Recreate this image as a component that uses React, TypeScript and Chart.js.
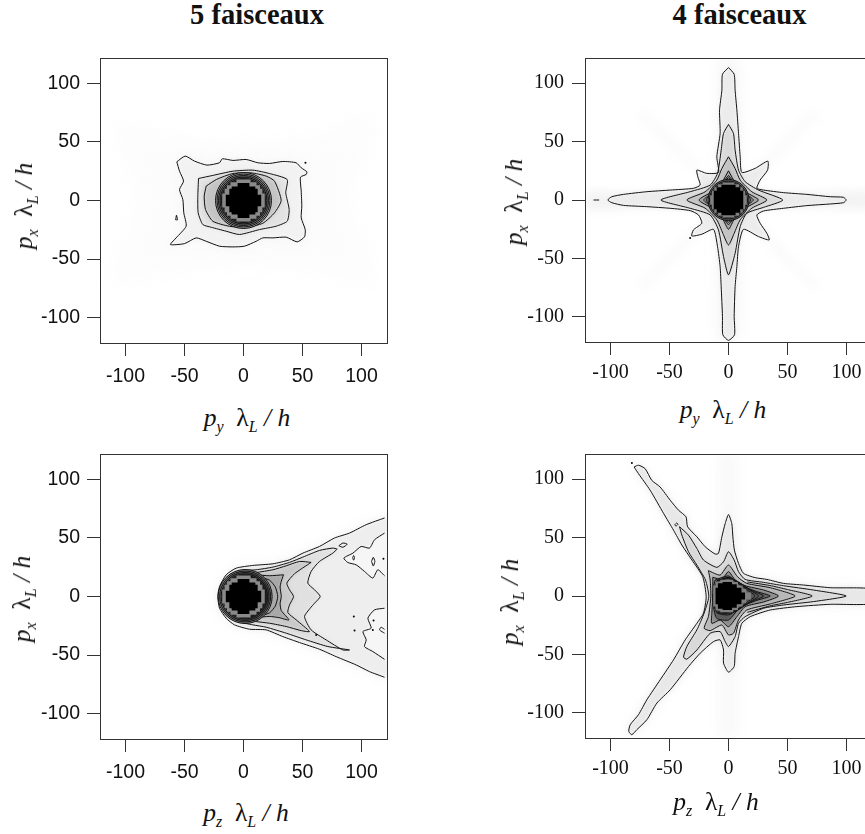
import React, { useEffect, useRef } from "react";
import { Chart, registerables } from "chart.js";

type P = [number, number];

const tickValues = [-100, -50, 0, 50, 100];
const axisLimit = 121.6;

// ---- 5 faisceaux, p_y / p_x ----
const a1Outer: P[] = [[-56.5,33],[-49.4,37.9],[-41.5,33.6],[-31,30.2],[-20.3,32.2],[-18,35.6],[-9,34.2],[2.3,35],[12.1,32.2],[22,31.6],[33.3,33.3],[44.6,32.2],[48.9,27.9],[53.7,24.5],[53.1,22.2],[48.3,19.9],[48.9,8],[49.4,-4.8],[48.9,-14.8],[52.3,-24.8],[51.7,-31],[45.5,-35.3],[36.2,-31.3],[24.9,-31.9],[16.4,-31.9],[10.7,-34.8],[0.8,-39],[-9,-39.6],[-20.3,-39],[-31.6,-34.8],[-40.1,-31.9],[-50,-36.8],[-61.9,-37.6],[-57.1,-31.9],[-48.6,-21.9],[-50.6,-10.5],[-51.4,0.9],[-54.2,9.4],[-50.8,16.5],[-54.2,25]];
const a1Second: P[] = [[-38.1,18.8],[-26,21.4],[-9,25],[7.9,25.9],[22,23],[37,17.9],[35.8,6.6],[38.7,-7.7],[37,-17.7],[27.7,-21.9],[13.6,-24.8],[-3.4,-29],[-14.7,-26.2],[-27.4,-22.8],[-34.5,-20.5],[-38.4,-10.5],[-38.7,3.7]];
const a1Third: P[] = [[-31.6,12.3],[-23,17.9],[-9,23],[6.5,23.6],[19.2,20.8],[26.3,16.5],[31.9,0],[26.3,-10.5],[16.4,-19.4],[2.3,-22.8],[-11.9,-22],[-26,-17.7],[-32.2,-7.7],[-33.3,3.7]];
const a1Drop: P[] = [[-57.5,-16.5],[-56.8,-12.5],[-56,-16.5]];
const a1Dots: P[] = [[52.5,32.2]];
const a1Haze: P[] = [[-112,70],[-50,52],[50,52],[112,70],[90,0],[112,-70],[50,-58],[-50,-58],[-112,-70],[-90,0]];
const a1Rings = [28, 26.5, 25, 23.5, 22, 20.5];

// ---- 4 faisceaux, p_y / p_x ----
const b1Outer: P[] = [[0,113.4],[4.8,107.7],[5.6,94],[7.1,76.9],[8.5,57],[9.9,37],[11.3,23.6],[22.6,27.1],[33.3,33.3],[33.1,25.6],[26.8,17.1],[24,10],[29.7,8.5],[46.6,6.3],[66.4,4.8],[86.2,2.8],[97.5,2.3],[99.7,0],[97.5,-2.3],[86.2,-3.4],[66.4,-4.8],[46.6,-7.1],[29.7,-9.4],[24,-12.8],[26.8,-19.9],[32.5,-28.5],[34.5,-34.2],[25.4,-31.3],[12.7,-25.1],[8.5,-39.9],[7.1,-57],[5.6,-74.1],[4.8,-99.7],[5.1,-115.4],[0,-120.2],[-4.8,-115.4],[-5.1,-99.7],[-6.2,-74.1],[-7.1,-57],[-9.3,-39.9],[-12.7,-25.1],[-22.6,-29.3],[-31.1,-30.8],[-29.7,-25.6],[-22.6,-19.9],[-25.4,-12.8],[-32.5,-9.1],[-49.4,-7.1],[-69.2,-5.7],[-89,-4.6],[-98.9,-2.3],[-102.3,0],[-98.9,2.8],[-89,4.8],[-69.2,7.1],[-49.4,8.5],[-29.7,10],[-24,12.8],[-26,19.9],[-26.8,25.6],[-18.4,22.8],[-8.5,23.6],[-9.9,37],[-7.1,57],[-7.6,76.9],[-5.6,94],[-5.1,107.7]];
const b1Second: P[] = [[0,64.7],[4.2,57],[5.6,42.7],[8.5,25.6],[14.1,15.7],[25.4,8.5],[46,0],[29.7,-6.3],[15.5,-11.4],[9.9,-22.8],[5.6,-45.6],[0,-64.1],[-4.2,-48.4],[-8.5,-25.6],[-15.5,-12.8],[-32.5,-7.1],[-57.3,0],[-32.5,7.1],[-15.5,12.8],[-9.3,22.8],[-6.2,42.7],[-4.2,57]];
const b1Third: P[] = [[0,37],[5.6,27],[9.9,17],[19.8,7],[32.5,0],[19.8,-7],[9.9,-17],[4.8,-28.5],[0,-38.5],[-4.8,-28.5],[-9.9,-17],[-19.8,-7],[-35.3,0],[-19.8,7],[-9.9,17],[-5.6,27]];
const b1Fourth: P[] = [[0,25],[5,16],[10,11],[15,6.5],[25.4,0],[15,-6.5],[10,-11],[5,-16],[0,-25],[-5,-16],[-10,-11],[-15,-6.5],[-25,0],[-15,6.5],[-10,11],[-5,16]];
const b1Fifth: P[] = [[0,21],[5,15],[10,10.5],[14,6],[21,0],[14,-6],[10,-10.5],[5,-15],[0,-21],[-5,-15],[-10,-10.5],[-14,-6],[-21,0],[-14,6],[-10,10.5],[-5,15]];
const b1Sixth: P[] = [[0,19],[6,14.5],[11,10],[15,5],[19,0],[15,-5],[11,-10],[6,-14.5],[0,-19],[-6,-14.5],[-11,-10],[-15,-5],[-19,0],[-15,5],[-11,10],[-6,14.5]];
const b1Dash: P[] = [[-114.4,0],[-109.6,0]];
const b1Dots: P[] = [[-32.5,-32.5]];
const b1BandH: P[] = [[-122,8],[-60,6],[60,6],[122,7],[122,-7],[60,-6],[-60,-6],[-122,-8]];
const b1BandV: P[] = [[-8,122],[8,122],[8,-122],[-8,-122]];
const b1StreakA: P[] = [[-78,72],[-72,78],[-24,30],[-30,24]];
const b1StreakB: P[] = [[78,72],[72,78],[24,30],[30,24]];
const b1StreakC: P[] = [[-78,-72],[-72,-78],[-24,-30],[-30,-24]];
const b1StreakD: P[] = [[78,-72],[72,-78],[24,-30],[30,-24]];
const b1Rings = [20.5, 19, 17.5];

// ---- 5 faisceaux, p_z / p_x ----
const a2Outer: P[] = [[119.5,67],[104,61.3],[89.8,54.1],[77.1,49.9],[64.4,42.7],[50.3,37],[39,31.3],[24.9,27.9],[7.9,26.5],[-6.2,24.2],[-14.7,18.5],[-20.3,8.5],[-21.8,0],[-20.3,-10],[-14.7,-18.5],[-7.6,-24.2],[5.1,-27.9],[19.2,-28.5],[33.3,-34.2],[47.5,-39.3],[64.4,-45],[78.5,-51.3],[95.5,-58.4],[106.8,-64.1],[119.5,-68.9]];
const a2Second: P[] = [[79.4,40.5],[75.7,41.3],[64.4,39.3],[50.3,33.6],[39,29.1],[24.9,25.1],[10.7,22.8],[-3.4,21.9],[-11.9,18.5],[-17.5,8.5],[-18.9,0],[-17.5,-8.5],[-11.9,-17.1],[-4.8,-21.4],[7.9,-24.2],[19.2,-26.2],[36.2,-31.3],[53.1,-37],[71.5,-42.7],[89.8,-45.6],[84.2,-45.6],[70,-37],[57.3,-28.5],[51.7,-17.1],[56.5,-10],[60.2,-5.7],[65,0],[60.2,5.7],[54.5,11.4],[57.3,21.4],[64.4,29.9],[75.7,37]];
const a2Third: P[] = [[57.3,29.1],[47.5,29.9],[36.2,26.2],[24.9,22.8],[10.7,20.5],[-2,19.4],[-10.5,15.7],[-15.5,7.1],[-16.9,0],[-15.5,-7.1],[-10.5,-14.8],[-2,-19.4],[10.7,-21.4],[22,-22.8],[36.2,-25.6],[48.9,-29.1],[55.9,-29.9],[44.6,-19.9],[37.6,-13.7],[39,-7.1],[42.4,0],[39,5.7],[36.7,11.4],[43.2,19.4]];
const a2Fourth: P[] = [[33.9,18.5],[22,17.7],[10,18.5],[-2,18],[-9,14],[-14,6],[-15,0],[-14,-6],[-9,-14],[-2,-18],[10,-18],[22,-17],[30,-18],[38.5,-20],[32,-12],[31,-6],[32,0],[31,8],[32,13]];
const a2Fifth: P[] = [[12,17],[22,14],[27,8],[29,0],[27,-8],[22,-14],[12,-17],[0,-18],[-10,-14],[-14,-6],[-15,0],[-14,6],[-10,14],[0,18]];
const a2Upper: P[] = [[119.5,54.1],[111,48.4],[106.8,41.3],[99.7,42.7],[92.7,37],[85,32.8],[88.4,29],[95.5,27],[102.5,21.4],[109.6,15.7],[113.8,22.8],[119.5,17.7]];
const a2Lower: P[] = [[119.5,-10],[111,-11.4],[105.4,-18.5],[108.2,-27],[101.2,-29.9],[104,-37],[102.5,-42.7],[109.6,-47],[119.5,-53.6]];
const a2IsleA: P[] = [[80.8,43.3],[84.2,45.6],[87.9,44.7],[84.2,42]];
const a2IsleB: P[] = [[92.5,33],[93.3,35],[94.1,33],[93.3,31]];
const a2IsleC: P[] = [[108.5,30],[110,33.5],[111.3,30],[110,26]];
const a2Hook: P[] = [[119.5,-31.3],[115.3,-28.5],[116.5,-26.2],[119.5,-28]];
const a2Dots: P[] = [[118.6,32.2],[93.5,-17],[94.1,-29],[109.6,-28.5],[110.2,-20.5],[61.6,-32.8]];
const a2Rings = [27, 25.5, 24, 22.5, 21];

// ---- 4 faisceaux, p_z / p_x ----
const b2Outer: P[] = [[-80,110.5],[-76.3,112],[-70.6,109],[-65,99],[-58,93.4],[-49.4,82],[-42.4,73.5],[-36,67.8],[-34.7,59.3],[-26.8,50.7],[-19.8,42.2],[-11.3,35.9],[-8.5,36.5],[-5.6,50.7],[-2.8,62],[0,69.8],[2.8,62],[3.7,50.7],[5,39.3],[8.5,27.9],[12.7,19.4],[22.6,15.7],[32.5,14.2],[46.6,10.8],[63.6,9.4],[86.2,7.1],[124,5.7],[124,-6.3],[86.2,-7.1],[57.9,-9.1],[35.3,-12],[18.4,-17.7],[11.3,-23.4],[8.5,-34.8],[5.6,-49],[4.8,-60.4],[0,-65.2],[-4.2,-57.5],[-4.2,-46.2],[-7.1,-37.6],[-12.7,-39],[-24,-49],[-33.9,-60.4],[-49.4,-80.3],[-60.7,-91.7],[-69.2,-106],[-77.7,-114.5],[-81.9,-118.8],[-84.5,-116],[-83.3,-110.3],[-76.3,-101.7],[-69.2,-88.9],[-57.9,-71.8],[-46.6,-54.7],[-36.7,-37.6],[-26.8,-23.4],[-21.2,-14.8],[-18.9,-0.6],[-21.8,16.5],[-31,30.8],[-39.5,43.6],[-46.6,56.4],[-55,70.7],[-66.4,90.6],[-76.3,104.8]];
const b2Second: P[] = [[-41.5,59.3],[-33.9,52.1],[-26.8,40.7],[-21.2,30.8],[-9.9,24.5],[-4.2,29.3],[0,37.9],[4.8,30.8],[8.5,20.8],[14.1,14.2],[29.7,11.7],[46.6,8.8],[72,5.1],[99.7,0],[72,-4.8],[46.6,-7.7],[29.7,-10.5],[14.1,-17.7],[8.5,-23.4],[5.6,-34.8],[0,-43.3],[-2.8,-39],[-7.1,-30.5],[-15.5,-31.9],[-26.8,-46.2],[-35.3,-54.1],[-38.1,-52.4],[-35.3,-43.3],[-26.8,-29],[-21.2,-16.2],[-16.7,-0.6],[-19.5,13.7],[-26.8,26.5],[-33.9,37.9],[-39.5,52.1]];
const b2Chevron: P[] = [[16,12],[35,9],[50,5.5],[71,0],[50,-5.5],[35,-8.5],[16,-14]];
const b2Third: P[] = [[-17,21.7],[-7.1,17.9],[0,26.5],[7.6,16.5],[15.5,10.8],[35.3,7.1],[56.5,0],[35.3,-6.8],[15.5,-12],[8.5,-20.5],[4.2,-31.9],[0,-33.3],[-5.6,-24.8],[-15.5,-29.6],[-20.6,-27.6],[-17,-17.7],[-15,-0.6],[-15.5,13.7]];
const b2Fourth: P[] = [[-13.3,16],[-5.6,14.2],[0,20.8],[5.6,13.7],[14.1,8.8],[29.7,5.1],[42.4,0],[29.7,-5.1],[14.1,-9.1],[7.1,-17.7],[0,-26.2],[-7.1,-20.5],[-14.1,-23.4],[-14.1,-14.8],[-13.3,-0.6]];
const b2Fifth: P[] = [[-11.3,13.7],[0,17.1],[9.9,9.4],[24,3.7],[35.3,0],[24,-3.7],[9.9,-9.7],[0,-20.5],[-9.9,-19.1],[-12.7,-9.1],[-12.7,8]];
const b2Sixth: P[] = [[-9.9,12.3],[0,15.7],[9.9,10.8],[19.8,4.6],[29.7,0],[19.8,-4.6],[9.9,-10.5],[0,-16.2],[-9.9,-14.2],[-13.3,-0.6]];
const b2Seventh: P[] = [[-9.9,13],[0,16],[9,11.5],[17,5.5],[25.5,0],[17,-5.5],[9,-11.5],[0,-15],[-10,-13.5],[-13,0]];
const b2Eighth: P[] = [[-9,12.5],[0,15],[9,10.5],[16,5],[22.5,0],[16,-5],[9,-10.5],[0,-14],[-9,-13],[-12,0]];
const b2Drop: P[] = [[-45.5,61],[-44,62.5],[-42.8,61.5],[-44.5,59.8]];
const b2Dots: P[] = [[-81.9,114]];
const b2BandV: P[] = [[-7,122],[7,122],[7,-122],[-7,-122]];

// ---- shared core blocks ----
const roundBlack: P[] = [[-5,15],[5,15],[5,12],[10,12],[10,10],[12,10],[12,5],[15,5],[15,-5],[12,-5],[12,-10],[10,-10],[10,-12],[5,-12],[5,-15],[-5,-15],[-5,-12],[-10,-12],[-10,-10],[-12,-10],[-12,-5],[-15,-5],[-15,5],[-12,5],[-12,10],[-10,10],[-10,12],[-5,12]];
const roundGrey: P[] = [[-6,18],[6,18],[6,15.5],[11,15.5],[11,13],[14,13],[14,10],[16,10],[16,6],[18,6],[18,-6],[16,-6],[16,-10],[14,-10],[14,-13],[11,-13],[11,-15.5],[6,-15.5],[6,-18],[-6,-18],[-6,-15.5],[-11,-15.5],[-11,-13],[-14,-13],[-14,-10],[-16,-10],[-16,-6],[-18,-6],[-18,6],[-16,6],[-16,10],[-14,10],[-14,13],[-11,13],[-11,15.5],[-6,15.5]];
const squareBlack: P[] = [[-6,13],[6,13],[6,11],[10,11],[10,8],[12.5,8],[12.5,-8],[10,-8],[10,-11],[6,-11],[6,-13],[-6,-13],[-6,-11],[-10,-11],[-10,-8],[-12.5,-8],[-12.5,8],[-10,8],[-10,11],[-6,11]];
const squareGrey: P[] = [[-5,15],[5,15],[5,13.5],[9,13.5],[9,11],[12,11],[12,8],[14,8],[14,4],[15.5,4],[15.5,-4],[14,-4],[14,-8],[12,-8],[12,-11],[9,-11],[9,-13.5],[5,-13.5],[5,-15],[-5,-15],[-5,-13.5],[-9,-13.5],[-9,-11],[-12,-11],[-12,-8],[-14,-8],[-14,-4],[-15.5,-4],[-15.5,4],[-14,4],[-14,8],[-12,8],[-12,11],[-9,11],[-9,13.5],[-5,13.5]];
const dropBlack: P[] = [[-5,12],[3,12],[3,10],[7,10],[7,7],[11,7],[11,3],[14,3],[14,-3],[11,-3],[11,-7],[7,-7],[7,-10],[3,-10],[3,-12],[-5,-12],[-5,-11],[-9,-11],[-9,-7],[-11,-7],[-11,7],[-9,7],[-9,11],[-5,11]];
const dropGrey: P[] = [[-7,14],[4,14],[4,12],[8,12],[8,9],[12,9],[12,6],[15,6],[15,3],[19,3],[19,-3],[15,-3],[15,-6],[12,-6],[12,-9],[8,-9],[8,-12],[4,-12],[4,-14],[-7,-14],[-7,-12.5],[-11,-12.5],[-11,-9],[-13,-9],[-13,9],[-11,9],[-11,12.5],[-7,12.5]];

const closed = (p: P[]) => [...p, p[0]];
const xy = (p: P[]) => p.map(([x, y]) => ({ x, y }));
const SMOOTH = 0.2;

const shade = (p: P[], color: string, blur = 0, tension = SMOOTH) => ({
  data: xy(closed(p)), showLine: true, pointRadius: 0, borderWidth: 0, borderColor: "transparent",
  backgroundColor: color, fill: "shape", tension, blur,
});
const solid = (p: P[], color: string) => shade(p, color, 0, 0);
const contour = (p: P[], close = true) => ({
  data: xy(close ? closed(p) : p), showLine: true, pointRadius: 0, borderWidth: 1, borderColor: "#111",
  fill: false, tension: SMOOTH,
});
const dots = (p: P[]) => ({
  data: xy(p), showLine: false, pointRadius: 1, pointBorderWidth: 0, pointBackgroundColor: "#000",
});
const ring = (x: number, r: number, color: string) => ({
  data: [{ x, y: 0 }], showLine: false, pointRadius: r, pointBorderWidth: 1, pointBorderColor: "#111",
  pointBackgroundColor: color,
});
const ringFills = ["#a8a8a8", "#888", "#666", "#4a4a4a", "#333", "#262626"];

const panel1 = [
  shade(a1Haze, "#fcfcfc", 10),
  shade(a1Outer, "#f6f6f6", 7),
  shade(a1Outer, "#f2f2f2", 2),
  shade(a1Second, "#e2e2e2", 2),
  shade(a1Third, "#c4c4c4", 2),
  contour(a1Outer), contour(a1Second), contour(a1Third), contour(a1Drop), dots(a1Dots),
  ...a1Rings.map((r, i) => ring(0, r, ringFills[i])),
  solid(roundGrey, "#8a8a8a"), solid(roundBlack, "#000"),
];
const panel2 = [
  shade(b1BandH, "#f3f3f3", 5), shade(b1BandV, "#f6f6f6", 7),
  shade(b1StreakA, "#fbfbfb", 5), shade(b1StreakB, "#fbfbfb", 5),
  shade(b1StreakC, "#fbfbfb", 5), shade(b1StreakD, "#fbfbfb", 5),
  shade(b1Outer, "#ececec", 2),
  shade(b1Second, "#dadada", 2),
  shade(b1Third, "#c4c4c4", 1),
  shade(b1Fourth, "#a0a0a0", 1),
  contour(b1Outer), contour(b1Second), contour(b1Third), contour(b1Fourth), contour(b1Fifth), contour(b1Sixth),
  contour(b1Dash, false), dots(b1Dots),
  ...b1Rings.map((r, i) => ring(0, r, ringFills[i + 2])),
  solid(squareGrey, "#808080"), solid(squareBlack, "#000"),
];
const panel3 = [
  shade([...a2Outer, [124, -70], [124, 68]] as P[], "#f4f4f4", 7, 0),
  shade([...a2Outer, [124, -70], [124, 68]] as P[], "#eeeeee", 2, 0),
  shade([...a2Upper, [124, 17], [124, 55]] as P[], "#f6f6f6", 2, 0),
  shade([...a2Lower, [124, -54], [124, -10]] as P[], "#f6f6f6", 2, 0),
  shade(a2Second, "#e0e0e0", 2),
  shade(a2Third, "#c8c8c8", 2),
  shade(a2Fourth, "#a8a8a8", 1),
  contour(a2Outer, false), contour(a2Second), contour(a2Third), contour(a2Fourth), contour(a2Fifth),
  contour(a2Upper, false), contour(a2Lower, false), contour(a2IsleA), contour(a2IsleB), contour(a2IsleC),
  contour(a2Hook, false), dots(a2Dots),
  ...a2Rings.map((r, i) => ring(1.4, r, ringFills[i + 1])),
  solid(roundGrey, "#8a8a8a"), solid(roundBlack, "#000"),
];
const panel4 = [
  shade(b2BandV, "#f8f8f8", 7, 0),
  shade(b2Outer, "#f2f2f2", 6),
  shade(b2Outer, "#e8e8e8", 2),
  shade(b2Second, "#d8d8d8", 2),
  shade(b2Chevron, "#c8c8c8", 1),
  shade(b2Third, "#b8b8b8", 1),
  shade(b2Fourth, "#8c8c8c", 1),
  shade(b2Fifth, "#5a5a5a", 1),
  contour(b2Outer), contour(b2Second), contour(b2Chevron, false), contour(b2Third), contour(b2Fourth), contour(b2Fifth),
  contour(b2Sixth), contour(b2Seventh), contour(b2Eighth), contour(b2Drop), dots(b2Dots),
  solid(dropGrey, "#808080"), solid(dropBlack, "#000"),
];

const blurPlugin = {
  id: "softLayer",
  beforeDatasetDraw(chart: any, args: any) {
    const b = (chart.data.datasets[args.index] as any).blur;
    if (b) { chart.ctx.save(); chart.ctx.filter = `blur(${b}px)`; }
  },
  afterDatasetDraw(chart: any, args: any) {
    if ((chart.data.datasets[args.index] as any).blur) chart.ctx.restore();
  },
};
Chart.register(blurPlugin);
Chart.register(...registerables);

const framePlugin = {
  id: "frame",
  afterDraw(chart: any) {
    const { left, top, width, height } = chart.chartArea;
    const c = chart.ctx;
    c.save(); c.strokeStyle = "#333"; c.lineWidth = 1;
    c.strokeRect(Math.round(left) + 0.5, Math.round(top) + 0.5, Math.round(width), Math.round(height));
    c.restore();
  },
};

const AXIS_W = 70, AXIS_H = 50, PAD_T = 8;

type PanelProps = { left: number; top: number; w: number; h: number; layers: any[]; family: string; size: number; xGap: number; yGap: number };

function Panel({ left, top, w, h, layers, family, size, xGap, yGap }: PanelProps) {
  const ref = useRef<HTMLCanvasElement>(null);
  useEffect(() => {
    const font = { family, size };
    const ticksAt = (s: any) => { s.ticks = tickValues.map((value) => ({ value })); };
    const chart = new Chart(ref.current!, {
      type: "scatter",
      data: { datasets: [...layers].reverse() },
      options: {
        animation: false, responsive: false, devicePixelRatio: 1,
        layout: { autoPadding: false, padding: { top: PAD_T, right: 1, left: 0, bottom: 0 } },
        plugins: { legend: { display: false }, tooltip: { enabled: false } },
        scales: {
          x: {
            type: "linear", min: -axisLimit, max: axisLimit, afterBuildTicks: ticksAt,
            afterFit: (s: any) => { s.height = AXIS_H; s.paddingLeft = 0; s.paddingRight = 0; },
            grid: { drawOnChartArea: false, tickLength: 13, tickColor: "#333", tickWidth: 1 },
            border: { display: false },
            ticks: { font, color: "#111", padding: xGap, maxRotation: 0, autoSkip: false },
          },
          y: {
            type: "linear", min: -axisLimit, max: axisLimit, afterBuildTicks: ticksAt,
            afterFit: (s: any) => { s.width = AXIS_W; s.paddingTop = 0; s.paddingBottom = 0; },
            grid: { drawOnChartArea: false, tickLength: 13, tickColor: "#333", tickWidth: 1 },
            border: { display: false },
            ticks: { font, color: "#111", padding: yGap, autoSkip: false },
          },
        },
      } as any,
      plugins: [framePlugin],
    });
    return () => chart.destroy();
  }, []);
  return (
    <canvas ref={ref} width={AXIS_W + w + 1} height={PAD_T + h + AXIS_H}
      style={{ position: "absolute", left: left - AXIS_W, top: top - PAD_T, display: "block", filter: "blur(0.35px)" }} />
  );
}

const serif = "'Liberation Serif', serif";
const subStyle: React.CSSProperties = { fontSize: 16, fontStyle: "italic", position: "relative", top: 6 };

function AxisLabel({ first, cx, baseline, vertical }: { first: string; cx: number; baseline: number; vertical?: boolean }) {
  const content = (
    <>
      <i>p</i><span style={subStyle}>{first}</span>
      <span>{"\u2002"}λ</span><span style={subStyle}>L</span>
      <i> / h</i>
    </>
  );
  const base: React.CSSProperties = {
    position: "absolute", fontFamily: serif, fontSize: 25.5, lineHeight: "30px", height: 30, whiteSpace: "pre", color: "#111",
  };
  if (vertical) {
    return <div style={{ ...base, left: baseline - 6, top: cx - 15, transform: "translateX(-50%) rotate(-90deg)" }}>{content}</div>;
  }
  return <div style={{ ...base, left: cx, top: baseline - 22, transform: "translateX(-50%)" }}>{content}</div>;
}

function Heading({ text, cx }: { text: string; cx: number }) {
  return <div style={{ position: "absolute", left: cx, top: 0, transform: "translateX(-50%)", fontFamily: serif, fontWeight: "bold", fontSize: 28.5, lineHeight: "30px", whiteSpace: "pre", color: "#111" }}>{text}</div>;
}

export default function App() {
  const sans = "'Liberation Sans', sans-serif";
  return (
    <div style={{ position: "fixed", left: 0, top: 0, width: 865, height: 834, overflow: "hidden", background: "#fff" }}>
      <Heading text="5 faisceaux" cx={257} />
      <Heading text="4 faisceaux" cx={739.5} />
      <Panel left={100} top={58} w={287} h={285} layers={panel1} family={sans} size={19.5} xGap={9} yGap={7} />
      <Panel left={585} top={58} w={287} h={284} layers={panel2} family={serif} size={20} xGap={6} yGap={8} />
      <Panel left={100} top={454} w={287} h={285} layers={panel3} family={sans} size={19.5} xGap={9} yGap={7} />
      <Panel left={585} top={454} w={287} h={284} layers={panel4} family={serif} size={20} xGap={6} yGap={8} />
      <AxisLabel first="y" cx={247} baseline={425} />
      <AxisLabel first="y" cx={723} baseline={417} />
      <AxisLabel first="z" cx={246} baseline={820} />
      <AxisLabel first="z" cx={716} baseline={809} />
      <AxisLabel first="x" cx={206} baseline={30} vertical />
      <AxisLabel first="x" cx={202} baseline={520} vertical />
      <AxisLabel first="x" cx={599} baseline={28} vertical />
      <AxisLabel first="x" cx={602} baseline={516} vertical />
    </div>
  );
}
